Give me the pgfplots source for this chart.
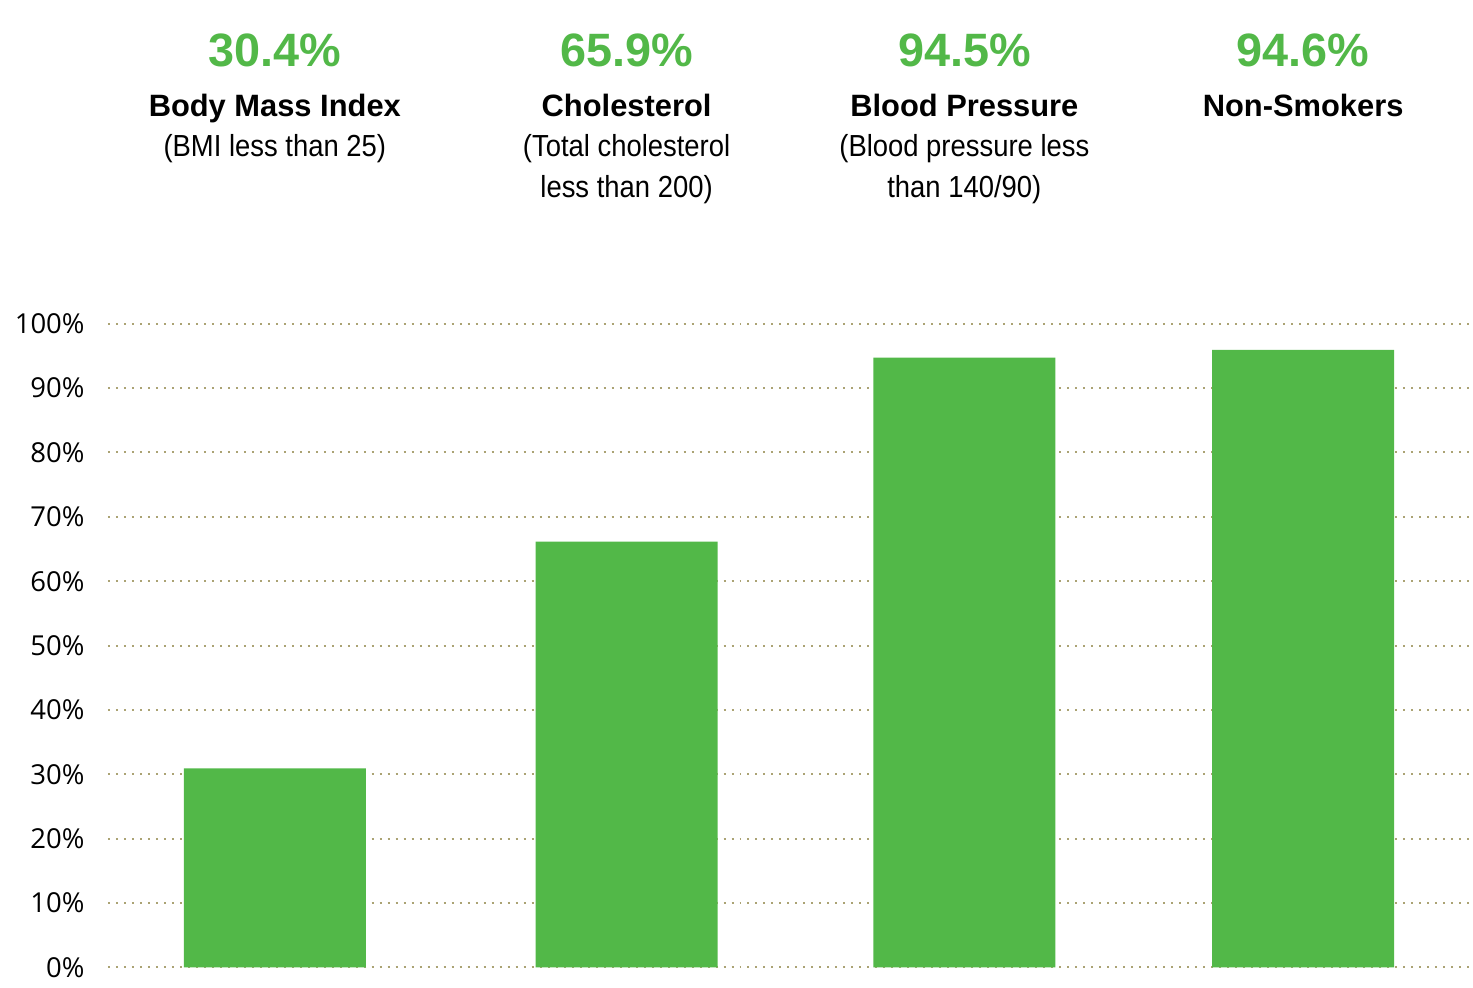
\documentclass[border=0pt]{standalone}
\usepackage{pgfplots}
\pgfplotsset{compat=1.18}
\usepackage{fontspec}
\setmainfont{Liberation Sans}
\newfontfamily\condfont[FakeStretch=0.9]{Liberation Sans}
\newfontfamily\tickfont{Open Sans}

\definecolor{bargreen}{HTML}{52B848}
\definecolor{gridkhaki}{HTML}{ABA374}

\begin{document}
\begin{tikzpicture}
  \begin{axis}[
    scale only axis,
    width=682.5bp, height=494bp,
    xmin=108, xmax=1473,
    ymin=-3.1056, ymax=150.31,
    clip=false,
    axis line style={draw=none},
    xtick=\empty,
    ytick={0,10,...,100},
    yticklabel={\pgfmathprintnumber{\tick}\%},
    yticklabel style={font=\fontsize{13.8}{16}\tickfont, anchor=east, inner sep=0pt, xshift=-11.5bp},
    /pgf/number format/assume math mode=true,
    major tick length=0pt,
    ymajorgrids,
    major grid style={gridkhaki, line width=1bp, dash pattern=on 1bp off 3bp},
    ]

    \addplot[ybar, bar width=182, fill=bargreen, draw=none] coordinates {
      (275, 30.9)
      (627, 66.15)
      (965, 94.72)
      (1304, 95.96)
    };

    % headline values
    \node[anchor=base, text=bargreen, font=\fontsize{23.5}{26}\selectfont\bfseries] at (axis cs:275,139.91) {30.4\%};
    \node[anchor=base, text=bargreen, font=\fontsize{23.5}{26}\selectfont\bfseries] at (axis cs:627,139.91) {65.9\%};
    \node[anchor=base, text=bargreen, font=\fontsize{23.5}{26}\selectfont\bfseries] at (axis cs:965,139.91) {94.5\%};
    \node[anchor=base, text=bargreen, font=\fontsize{23.5}{26}\selectfont\bfseries] at (axis cs:1304,139.91) {94.6\%};

    % category titles
    \node[anchor=base, font=\fontsize{15.5}{18}\selectfont\bfseries] at (axis cs:275,132.14) {Body Mass Index};
    \node[anchor=base, font=\fontsize{15.5}{18}\selectfont\bfseries] at (axis cs:627,132.14) {Cholesterol};
    \node[anchor=base, font=\fontsize{15.5}{18}\selectfont\bfseries] at (axis cs:965,132.14) {Blood Pressure};
    \node[anchor=base, font=\fontsize{15.5}{18}\selectfont\bfseries] at (axis cs:1304,132.14) {Non-Smokers};

    % descriptions
    \node[anchor=base, font=\fontsize{15.3}{18}\condfont] at (axis cs:275,125.93) {(BMI less than 25)};
    \node[anchor=base, font=\fontsize{15.3}{18}\condfont] at (axis cs:627,125.93) {(Total cholesterol};
    \node[anchor=base, font=\fontsize{15.3}{18}\condfont] at (axis cs:627,119.57) {less than 200)};
    \node[anchor=base, font=\fontsize{15.3}{18}\condfont] at (axis cs:965,125.93) {(Blood pressure less};
    \node[anchor=base, font=\fontsize{15.3}{18}\condfont] at (axis cs:965,119.57) {than 140/90)};

    \path (axis cs:0,-3.1056) rectangle (axis cs:1473,150.31);
  \end{axis}
\end{tikzpicture}
\end{document}
